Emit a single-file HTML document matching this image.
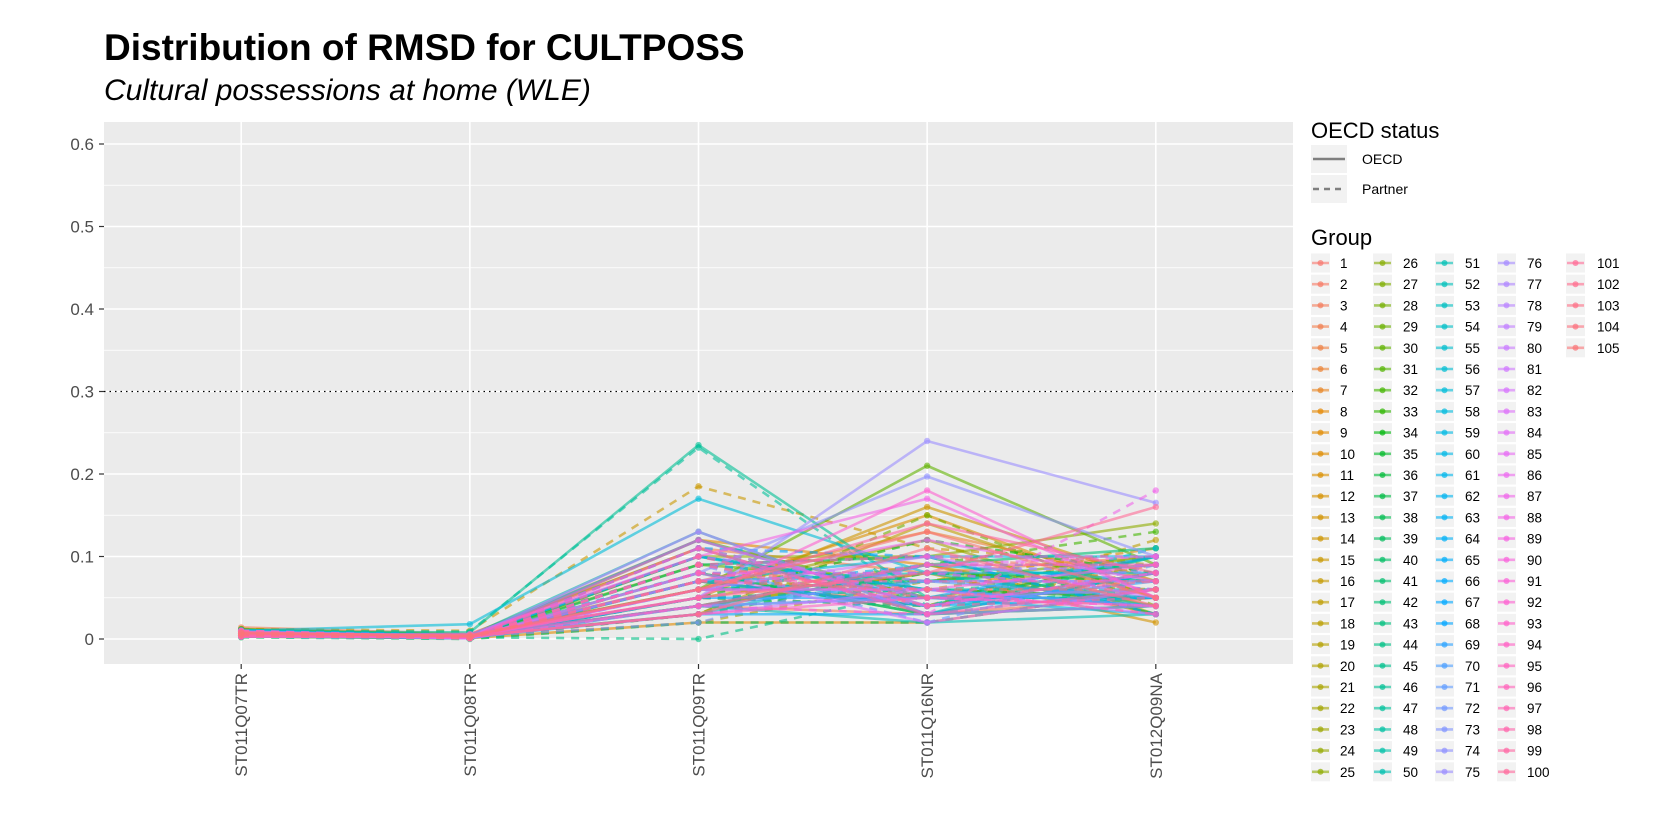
<!DOCTYPE html>
<html><head><meta charset="utf-8"><style>
html,body{margin:0;padding:0;background:#fff;}
svg{display:block;font-family:"Liberation Sans",Arial,sans-serif;}
</style></head><body>
<svg id="chart" width="1653" height="826" viewBox="0 0 1653 826">
<text x="104" y="60" font-size="37" font-weight="bold" fill="#000">Distribution of RMSD for CULTPOSS</text>
<text x="104" y="100" font-size="30" font-style="italic" fill="#000">Cultural possessions at home (WLE)</text>
<rect x="104" y="122" width="1189" height="542" fill="#ebebeb"/>
<g id="grid"></g>
<g id="series"></g>
<g id="axes"></g>
<g id="legend"></g>
</svg>
<script>
const categories=["ST011Q07TR","ST011Q08TR","ST011Q09TR","ST011Q16NR","ST012Q09NA"];
const yTicks=[0,0.1,0.2,0.3,0.4,0.5,0.6];
const yTickLabels=["0","0.1","0.2","0.3","0.4","0.5","0.6"];
const threshold=0.3;
const q07=[0.008,0.012,0.005,0.014,0.004,0.009,0.006,0.011,0.003,0.007,0.010,0.005,0.008,0.004,0.012,0.006,0.009,0.003,0.007,0.011,0.005,0.008,0.004,0.010,0.006,0.009,0.003,0.007,0.005,0.012,0.004,0.008,0.006,0.010,0.003,0.007,0.009,0.005,0.002,0.008,0.006,0.011,0.004,0.007,0.005,0.009,0.010,0.003,0.006,0.008,0.004,0.007,0.005,0.011,0.003,0.008,0.010,0.006,0.004,0.009,0.005,0.007,0.003,0.008,0.006,0.010,0.004,0.007,0.005,0.009,0.003,0.006,0.008,0.004,0.007,0.005,0.010,0.003,0.006,0.008,0.004,0.009,0.005,0.007,0.003,0.006,0.010,0.004,0.008,0.005,0.007,0.003,0.009,0.006,0.004,0.008,0.005,0.007,0.003,0.010,0.006,0.004,0.008,0.005,0.007];
const q08=[0.003,0.005,0.002,0.006,0.001,0.004,0.002,0.005,0.001,0.003,0.004,0.002,0.003,0.001,0.010,0.002,0.004,0.001,0.003,0.005,0.002,0.003,0.001,0.004,0.002,0.003,0.001,0.002,0.003,0.005,0.001,0.003,0.002,0.004,0.001,0.002,0.003,0.001,0.000,0.003,0.002,0.004,0.001,0.002,0.001,0.008,0.009,0.002,0.004,0.003,0.001,0.002,0.003,0.004,0.001,0.003,0.018,0.002,0.001,0.003,0.002,0.004,0.001,0.003,0.002,0.005,0.001,0.003,0.002,0.004,0.001,0.002,0.003,0.002,0.004,0.001,0.003,0.002,0.004,0.001,0.002,0.003,0.001,0.004,0.002,0.003,0.001,0.006,0.002,0.003,0.001,0.004,0.002,0.003,0.001,0.002,0.004,0.001,0.003,0.002,0.005,0.001,0.003,0.002,0.004];
const q09=[0.06,0.09,0.04,0.11,0.03,0.07,0.05,0.12,0.02,0.08,0.06,0.10,0.04,0.05,0.185,
0.07,0.03,0.09,0.05,0.11,0.02,0.06,0.08,0.04,0.10,0.05,0.07,0.03,0.09,0.06,
0.12,0.04,0.08,0.05,0.10,0.03,0.07,0.09,0.02,0.06,0.11,0.04,0.08,0.00,0.05,
0.235,0.232,0.07,0.13,0.09,0.04,0.06,0.10,0.03,0.08,0.05,0.170,0.11,0.07,0.04,
0.09,0.12,0.06,0.10,0.03,0.08,0.05,0.11,0.07,0.04,0.09,0.06,0.02,0.08,0.05,
0.04,0.07,0.13,0.10,0.06,0.09,0.03,0.08,0.05,0.11,0.07,0.04,0.10,0.06,0.08,
0.12,0.05,0.09,0.03,0.07,0.11,0.04,0.08,0.06,0.10,0.05,0.09,0.03,0.07,0.06];
const q16=[0.05,0.10,0.03,0.08,0.06,0.13,0.04,0.09,0.02,0.07,0.15,0.05,0.08,0.16,0.11,
0.06,0.14,0.04,0.09,0.03,0.07,0.12,0.05,0.08,0.10,0.06,0.04,0.15,0.07,0.21,
0.05,0.09,0.03,0.12,0.06,0.08,0.04,0.10,0.02,0.07,0.05,0.09,0.03,0.06,0.04,
0.05,0.04,0.08,0.03,0.06,0.02,0.07,0.05,0.09,0.04,0.06,0.08,0.03,0.10,0.05,
0.07,0.04,0.09,0.06,0.03,0.08,0.05,0.10,0.04,0.07,0.02,0.06,0.09,0.197,0.24,
0.05,0.08,0.03,0.07,0.10,0.04,0.06,0.02,0.09,0.05,0.12,0.03,0.17,0.06,0.08,
0.04,0.18,0.10,0.05,0.07,0.03,0.09,0.06,0.14,0.04,0.08,0.05,0.11,0.06,0.13];
const q09na=[0.06,0.08,0.05,0.10,0.04,0.07,0.09,0.03,0.06,0.11,0.05,0.08,0.02,0.07,0.09,
0.10,0.05,0.12,0.04,0.08,0.06,0.03,0.09,0.07,0.14,0.05,0.08,0.04,0.10,0.09,
0.06,0.13,0.04,0.08,0.05,0.07,0.10,0.03,0.06,0.09,0.05,0.11,0.04,0.07,0.06,
0.05,0.08,0.04,0.10,0.06,0.03,0.09,0.05,0.07,0.11,0.04,0.08,0.06,0.10,0.03,
0.07,0.05,0.09,0.04,0.08,0.06,0.10,0.03,0.07,0.05,0.09,0.04,0.08,0.10,0.165,
0.06,0.09,0.04,0.07,0.05,0.08,0.03,0.06,0.10,0.04,0.07,0.18,0.05,0.09,0.06,
0.08,0.05,0.10,0.04,0.07,0.06,0.09,0.03,0.08,0.05,0.16,0.07,0.04,0.06,0.05];
const status="OPOOPOPOOPOPOOPPOPOOPOPOOPOPOOOPOPOPOOPOPOOPPOPOOPOPOOPPOPOOPOPOOPOPOOPOPOOOPOPOPOOPPOPOOPOOPOPOOPOPOPOPO".split("");

const NS="http://www.w3.org/2000/svg";
const X0=104,XW=1189,YT=122,YB=664;
function xS(i){return X0+XW*(0.6+i)/5.2;}
function yS(v){return 639-v*825;}
function mk(tag,attrs,parent){const e=document.createElementNS(NS,tag);for(const k in attrs)e.setAttribute(k,attrs[k]);parent.appendChild(e);return e;}
function hcl(h,c,l){const r=h*Math.PI/180;const U=c*Math.cos(r),V=c*Math.sin(r);
 const Xn=95.047,Yn=100,Zn=108.883;const Y=Yn*Math.pow((l+16)/116,3);
 const un=4*Xn/(Xn+15*Yn+3*Zn),vn=9*Yn/(Xn+15*Yn+3*Zn);
 const up=U/(13*l)+un,vp=V/(13*l)+vn;const X=9*Y*up/(4*vp);const Z=-X/3-5*Y+3*Y/vp;
 const x=X/100,y=Y/100,z=Z/100;
 let rgb=[3.2404542*x-1.5371385*y-0.4985314*z,-0.9692660*x+1.8760108*y+0.0415560*z,0.0556434*x-0.2040259*y+1.0572252*z];
 rgb=rgb.map(v=>{v=v<=0.0031308?12.92*v:1.055*Math.pow(v,1/2.4)-0.055;return Math.round(Math.max(0,Math.min(1,v))*255);});
 return "rgb("+rgb.join(",")+")";}
const N=q07.length;
const colors=[];for(let i=0;i<N;i++)colors.push(hcl(15+360*i/N,100,65));

const grid=document.getElementById('grid');
for(let t=0;t<yTicks.length-1;t++){const m=(yTicks[t]+yTicks[t+1])/2;
 const g=mk('line',{x1:X0,x2:X0+XW,y1:yS(m),y2:yS(m),stroke:'#fff','stroke-width':0.8},grid);
 
 }
yTicks.forEach((t,i)=>{const g=mk('line',{x1:X0,x2:X0+XW,y1:yS(t),y2:yS(t),stroke:'#fff','stroke-width':1.6},grid);
 
 });
categories.forEach((c,i)=>{const g=mk('line',{x1:xS(i),x2:xS(i),y1:YT,y2:YB,stroke:'#fff','stroke-width':1.6},grid);
 
 });
const th=mk('line',{x1:X0,x2:X0+XW,y1:yS(threshold),y2:yS(threshold),stroke:'#000','stroke-width':1.3,'stroke-dasharray':'1.5,4'},grid);



const ser=document.getElementById('series');
for(let i=0;i<N;i++){const vals=[q07[i],q08[i],q09[i],q16[i],q09na[i]];
 const g=mk('g',{},ser);
 
 
 const pts=vals.map((v,j)=>xS(j)+","+yS(v)).join(" ");
 const pl=mk('polyline',{points:pts,fill:'none',stroke:colors[i],'stroke-opacity':0.6,'stroke-width':2.6,'stroke-dasharray':status[i]==='P'?'8,7':'none'},g);
 
 
 vals.forEach((v,j)=>{const c=mk('circle',{cx:xS(j),cy:yS(v),r:3.2,fill:colors[i],'fill-opacity':0.6},g);
  
  });}

const ax=document.getElementById('axes');
yTicks.forEach((t,i)=>{const tk=mk('line',{x1:99,x2:104,y1:yS(t),y2:yS(t),stroke:'#333','stroke-width':1.2},ax);
 
 
 const tx=mk('text',{x:94,y:yS(t)+6,'text-anchor':'end','font-size':17,fill:'#4d4d4d'},ax);tx.textContent=yTickLabels[i];
 
 });
categories.forEach((c,i)=>{const tk=mk('line',{x1:xS(i),x2:xS(i),y1:YB,y2:YB+5,stroke:'#333','stroke-width':1.2},ax);
 
 
 const tx=mk('text',{x:0,y:0,'text-anchor':'end','font-size':17,fill:'#4d4d4d',transform:`translate(${xS(i)+6},${YB+9}) rotate(-90)`},ax);tx.textContent=c;
 
 });

const lg=document.getElementById('legend');
const t1=mk('text',{x:1311,y:138,'font-size':22,fill:'#000'},lg);t1.textContent='OECD status';


[['OECD','none',159],['Partner','6,5',189]].forEach(([lab,da,cy])=>{
 const g=mk('g',{},lg);
 
 
 mk('rect',{x:1311,y:cy-14,width:36,height:28,fill:'#f2f2f2'},g);
 mk('line',{x1:1313,x2:1345,y1:cy,y2:cy,stroke:'#7f7f7f','stroke-width':2.6,'stroke-dasharray':da},g);
 const t=mk('text',{x:1362,y:cy+5,'font-size':14,fill:'#000'},g);t.textContent=lab;});
const t2=mk('text',{x:1311,y:245,'font-size':22,fill:'#000'},lg);t2.textContent='Group';


const colX=[1311,1373,1435,1497,1566];const labX=[1340,1403,1465,1527,1597];
for(let i=0;i<N;i++){const col=Math.floor(i/25),row=i%25;const cy=263+row*21.2;
 const g=mk('g',{},lg);
 
 
 mk('rect',{x:colX[col],y:cy-9.5,width:19,height:19,fill:'#f2f2f2'},g);
 mk('line',{x1:colX[col]+1,x2:colX[col]+18,y1:cy,y2:cy,stroke:colors[i],'stroke-opacity':0.6,'stroke-width':2.6},g);
 mk('circle',{cx:colX[col]+9.5,cy:cy,r:3,fill:colors[i],'fill-opacity':0.7},g);
 const t=mk('text',{x:labX[col],y:cy+5,'font-size':13.5,fill:'#000'},g);t.textContent=String(i+1);}
</script>
</body></html>
